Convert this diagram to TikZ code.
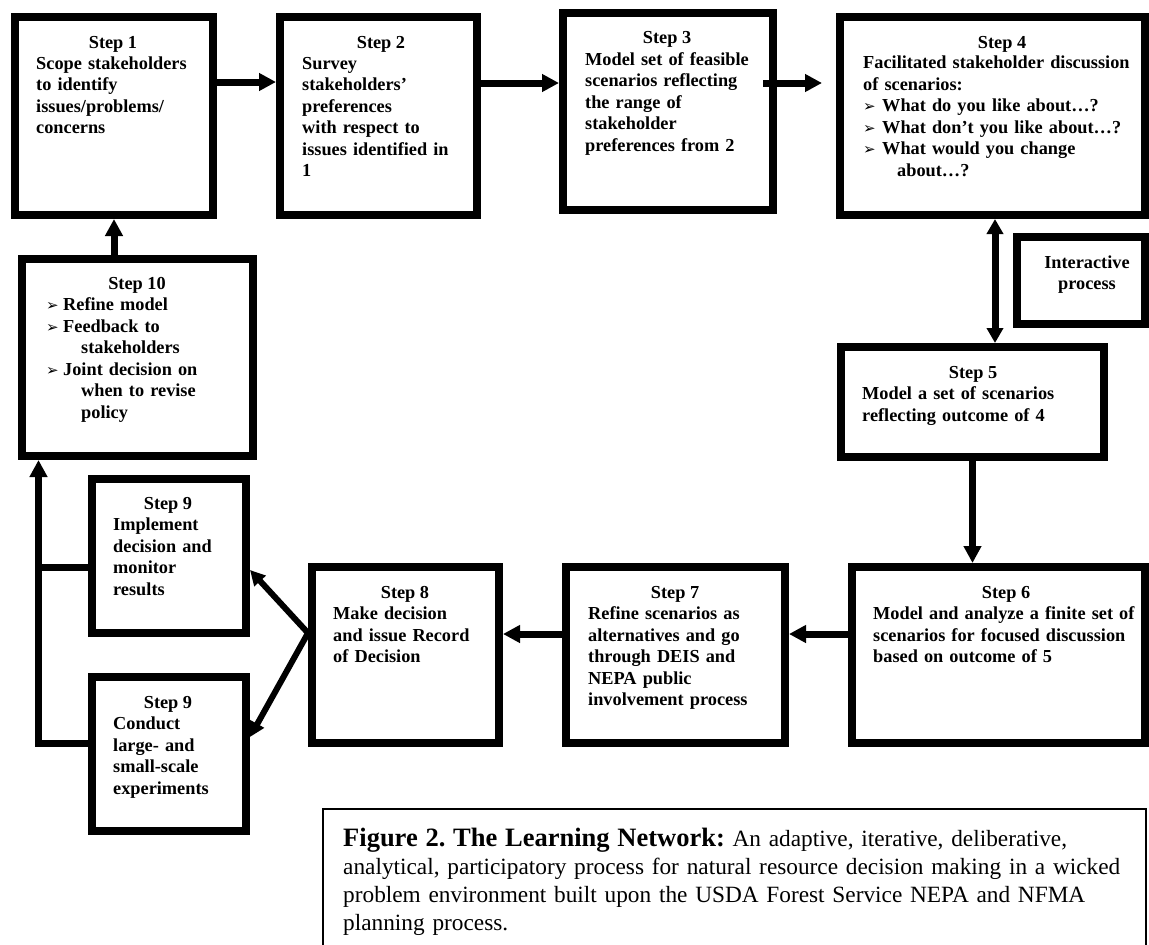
\documentclass[tikz,border=0pt]{standalone}
\usepackage{fontspec}
\setmainfont{Liberation Serif}
\newfontfamily\symfont{DejaVu Sans}
\usetikzlibrary{arrows.meta}
\newcommand{\arrbul}[1][17pt]{\makebox[#1][l]{\symfont\fontsize{15}{15}\selectfont ➢}}
\frenchspacing
\begin{document}
\begin{tikzpicture}[x=1pt,y=-1pt,
  box/.style={draw, line width=8pt, inner sep=0pt},
  boxfont/.style={font=\bfseries\fontsize{18.3}{21.5}\selectfont},
  head/.style={boxfont, anchor=base, inner sep=0pt},
  body/.style={boxfont, anchor=base west, align=left, text width=#1, inner sep=0pt},
  conn/.style={line width=7pt, -{Triangle[length=17pt,width=17pt]}},
  fan/.style={line width=6pt, -{Triangle[length=15pt,width=15pt]}},
  dbl/.style={line width=7pt, {Triangle[length=15pt,width=16pt]}-{Triangle[length=15pt,width=16pt]}},
  link/.style={line width=7pt},
  capbox/.style={draw, line width=2.5pt, inner sep=0pt, outer sep=0pt}
]
\useasboundingbox (0,0) rectangle (1149,945);
\clip (0,0) rectangle (1149,945);

% ---------- boxes ----------
\node[box, minimum width=198pt, minimum height=198pt] (s1) at (114,116) {};
\node[box, minimum width=197pt, minimum height=198pt] (s2) at (378.5,116) {};
\node[box, minimum width=210pt, minimum height=197pt] (s3) at (668,111.5) {};
\node[box, minimum width=305pt, minimum height=198pt] (s4) at (992.5,116) {};
\node[box, minimum width=128pt, minimum height=87pt] (ip) at (1081,280.5) {};
\node[box, minimum width=263pt, minimum height=110pt] (s5) at (972.5,402) {};
\node[box, minimum width=293pt, minimum height=176pt] (s6) at (998.5,655) {};
\node[box, minimum width=219pt, minimum height=176pt] (s7) at (675.5,655) {};
\node[box, minimum width=187pt, minimum height=176pt] (s8) at (405.5,655) {};
\node[box, minimum width=154pt, minimum height=154pt] (s9a) at (169,556) {};
\node[box, minimum width=154pt, minimum height=154pt] (s9b) at (169,754) {};
\node[box, minimum width=231pt, minimum height=197pt] (s10) at (137.5,357.5) {};

% ---------- texts ----------
\node[head] (h1) at (113,48) {Step 1};
\node[body=178pt] (t1) at (36,69) {Scope stakeholders\\to identify\\issues/problems/\\concerns};

\node[head] (h2) at (381,48) {Step 2};
\node[body=175pt] (t2) at (302,69) {Survey\\stakeholders’\\preferences\\with respect to\\issues identified in\\1};

\node[head] (h3) at (667,43) {Step 3};
\node[body=185pt] (t3) at (585,65) {Model set of feasible\\scenarios reflecting\\the range of\\stakeholder\\preferences from 2};

\node[head] (h4) at (1002,48) {Step 4};
\node[body=280pt] (t4) at (863,68.5) {Facilitated stakeholder discussion\\of scenarios:\\\arrbul[19pt]What do you like about…?\\\arrbul[19pt]What don’t you like about…?\\\arrbul[19pt]What would you change\\\hspace*{34pt}about…?};

\node[head, text width=125pt, align=center] (ti) at (1087,268) {Interactive\\process};

\node[head] (h5) at (973,378) {Step 5};
\node[body=240pt] (t5) at (862,399.5) {Model a set of scenarios\\reflecting outcome of 4};

\node[head] (h6) at (1006,598) {Step 6};
\node[body=270pt] (t6) at (873,619.5) {Model and analyze a finite set of\\scenarios for focused discussion\\based on outcome of 5};

\node[head] (h7) at (675,598) {Step 7};
\node[body=195pt] (t7) at (588,619.5) {Refine scenarios as\\alternatives and go\\through DEIS and\\NEPA public\\involvement process};

\node[head] (h8) at (405,598) {Step 8};
\node[body=165pt] (t8) at (333,619.5) {Make decision\\and issue Record\\of Decision};

\node[head] (h9a) at (168,509) {Step 9};
\node[body=130pt] (t9a) at (113,530.5) {Implement\\decision and\\monitor\\results};

\node[head] (h9b) at (168,708) {Step 9};
\node[body=130pt] (t9b) at (113,729.5) {Conduct\\large- and\\small-scale\\experiments};

\node[head] (h10) at (137,289) {Step 10};
\node[body=200pt] (t10) at (46,310.5) {\arrbul Refine model\\\arrbul Feedback to\\\hspace*{35pt}stakeholders\\\arrbul Joint decision on\\\hspace*{35pt}when to revise\\\hspace*{35pt}policy};

% ---------- connectors ----------
\draw[conn] ([yshift=34pt]s1.east) -- ([yshift=34pt]s2.west);
\draw[conn] ([yshift=33pt]s2.east) -- ([yshift=33pt]s2.east -| s3.west);
\draw[conn] ([xshift=-14pt,yshift=28.5pt]s3.east) -- ([xshift=-14pt,yshift=28.5pt]s3.east -| s4.west);
\draw[conn] (s1.south |- s10.north) -- (s1.south);
\draw[dbl] ([xshift=2.5pt]s4.south) -- ([xshift=2.5pt]s4.south |- s5.north);
\draw[conn] (s5.south) -- (s5.south |- s6.north);
\draw[conn] ([yshift=21pt]s6.west) -- ([yshift=21pt]s6.west -| s7.east);
\draw[conn] ([yshift=21pt]s7.west) -- ([yshift=21pt]s7.west -| s8.east);
\coordinate (hub) at ([yshift=22pt]s8.west);
\draw[fan] (hub) -- ([yshift=-14pt]s9a.east);
\draw[fan] (hub) -- ([yshift=17pt]s9b.east);
\coordinate (lx) at (38.5,0);
\draw[conn] ([yshift=11pt]s9b.west) -| (lx |- s10.south);
\draw[link] ([yshift=-11pt]s9a.west) -- ([yshift=-11pt]s9a.west -| lx);

% ---------- caption ----------
\node[capbox, anchor=north west, minimum width=823pt, minimum height=200pt] (capb) at (323,809) {};
\node[anchor=base west, align=left, text width=805pt, inner sep=0pt, font=\fontsize{23.3}{28}\selectfont] (capt) at (343,846) {{\fontsize{26.5}{28}\selectfont\bfseries Figure 2. The Learning Network:} An adaptive, iterative, deliberative,\\analytical, participatory process for natural resource decision making in a wicked\\problem environment built upon the USDA Forest Service NEPA and NFMA\\planning process.};
\end{tikzpicture}
\end{document}
